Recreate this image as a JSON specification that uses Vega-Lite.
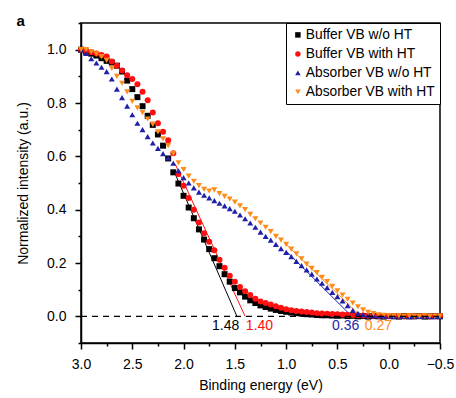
{
  "$schema": "https://vega.github.io/schema/vega-lite/v6.json",
  "width": 359,
  "height": 320,
  "padding": {"left": 16, "top": 14, "right": 4, "bottom": 4},
  "background": "white",
  "title": {"text": "a", "anchor": "start", "frame": "bounds", "fontSize": 15, "fontWeight": "bold", "font": "Liberation Sans", "color": "black", "offset": -13},
  "datasets": {
    "pts": [
      {"s":"b0","E":3.00,"I":1.000},{"s":"b0","E":2.95,"I":0.992},{"s":"b0","E":2.90,"I":0.985},{"s":"b0","E":2.85,"I":0.978},{"s":"b0","E":2.80,"I":0.968},{"s":"b0","E":2.75,"I":0.958},{"s":"b0","E":2.70,"I":0.952},{"s":"b0","E":2.65,"I":0.940},{"s":"b0","E":2.60,"I":0.918},{"s":"b0","E":2.55,"I":0.884},{"s":"b0","E":2.50,"I":0.852},{"s":"b0","E":2.45,"I":0.822},{"s":"b0","E":2.40,"I":0.788},{"s":"b0","E":2.35,"I":0.752},{"s":"b0","E":2.30,"I":0.718},{"s":"b0","E":2.25,"I":0.682},{"s":"b0","E":2.20,"I":0.640},{"s":"b0","E":2.15,"I":0.592},{"s":"b0","E":2.10,"I":0.540},{"s":"b0","E":2.05,"I":0.498},{"s":"b0","E":2.00,"I":0.452},{"s":"b0","E":1.95,"I":0.408},{"s":"b0","E":1.90,"I":0.368},{"s":"b0","E":1.85,"I":0.326},{"s":"b0","E":1.80,"I":0.288},{"s":"b0","E":1.75,"I":0.252},{"s":"b0","E":1.70,"I":0.218},{"s":"b0","E":1.65,"I":0.188},{"s":"b0","E":1.60,"I":0.158},{"s":"b0","E":1.55,"I":0.130},{"s":"b0","E":1.50,"I":0.106},{"s":"b0","E":1.45,"I":0.090},{"s":"b0","E":1.40,"I":0.074},{"s":"b0","E":1.35,"I":0.060},{"s":"b0","E":1.30,"I":0.050},{"s":"b0","E":1.25,"I":0.041},{"s":"b0","E":1.20,"I":0.035},{"s":"b0","E":1.15,"I":0.029},{"s":"b0","E":1.10,"I":0.024},{"s":"b0","E":1.05,"I":0.020},{"s":"b0","E":1.00,"I":0.017},{"s":"b0","E":0.95,"I":0.014},{"s":"b0","E":0.90,"I":0.012},{"s":"b0","E":0.85,"I":0.010},{"s":"b0","E":0.80,"I":0.008},{"s":"b0","E":0.75,"I":0.007},{"s":"b0","E":0.70,"I":0.005},{"s":"b0","E":0.65,"I":0.004},{"s":"b0","E":0.60,"I":0.004},{"s":"b0","E":0.55,"I":0.003},{"s":"b0","E":0.50,"I":0.002},{"s":"b0","E":0.45,"I":0.003},{"s":"b0","E":0.40,"I":0.001},{"s":"b0","E":0.35,"I":0.002},{"s":"b0","E":0.30,"I":0.000},{"s":"b0","E":0.25,"I":0.001},{"s":"b0","E":0.20,"I":-0.001},{"s":"b0","E":0.15,"I":0.001},{"s":"b0","E":0.10,"I":0.000},{"s":"b0","E":0.05,"I":-0.001},{"s":"b0","E":0.00,"I":0.001},{"s":"b0","E":-0.05,"I":0.000},{"s":"b0","E":-0.10,"I":-0.001},{"s":"b0","E":-0.15,"I":0.001},{"s":"b0","E":-0.20,"I":0.000},{"s":"b0","E":-0.25,"I":0.000},{"s":"b0","E":-0.30,"I":0.001},{"s":"b0","E":-0.35,"I":-0.001},{"s":"b0","E":-0.40,"I":0.000},{"s":"b0","E":-0.45,"I":0.001},{"s":"b0","E":-0.50,"I":0.000},
      {"s":"b1","E":3.00,"I":1.000},{"s":"b1","E":2.95,"I":0.996},{"s":"b1","E":2.90,"I":0.990},{"s":"b1","E":2.85,"I":0.986},{"s":"b1","E":2.80,"I":0.980},{"s":"b1","E":2.75,"I":0.974},{"s":"b1","E":2.70,"I":0.956},{"s":"b1","E":2.65,"I":0.940},{"s":"b1","E":2.60,"I":0.922},{"s":"b1","E":2.55,"I":0.904},{"s":"b1","E":2.50,"I":0.890},{"s":"b1","E":2.45,"I":0.870},{"s":"b1","E":2.40,"I":0.842},{"s":"b1","E":2.35,"I":0.810},{"s":"b1","E":2.30,"I":0.764},{"s":"b1","E":2.25,"I":0.724},{"s":"b1","E":2.20,"I":0.692},{"s":"b1","E":2.15,"I":0.660},{"s":"b1","E":2.10,"I":0.612},{"s":"b1","E":2.05,"I":0.534},{"s":"b1","E":2.00,"I":0.490},{"s":"b1","E":1.95,"I":0.444},{"s":"b1","E":1.90,"I":0.400},{"s":"b1","E":1.85,"I":0.352},{"s":"b1","E":1.80,"I":0.312},{"s":"b1","E":1.75,"I":0.280},{"s":"b1","E":1.70,"I":0.248},{"s":"b1","E":1.65,"I":0.212},{"s":"b1","E":1.60,"I":0.182},{"s":"b1","E":1.55,"I":0.152},{"s":"b1","E":1.50,"I":0.130},{"s":"b1","E":1.45,"I":0.110},{"s":"b1","E":1.40,"I":0.094},{"s":"b1","E":1.35,"I":0.080},{"s":"b1","E":1.30,"I":0.066},{"s":"b1","E":1.25,"I":0.056},{"s":"b1","E":1.20,"I":0.050},{"s":"b1","E":1.15,"I":0.044},{"s":"b1","E":1.10,"I":0.038},{"s":"b1","E":1.05,"I":0.032},{"s":"b1","E":1.00,"I":0.027},{"s":"b1","E":0.95,"I":0.023},{"s":"b1","E":0.90,"I":0.020},{"s":"b1","E":0.85,"I":0.018},{"s":"b1","E":0.80,"I":0.016},{"s":"b1","E":0.75,"I":0.014},{"s":"b1","E":0.70,"I":0.012},{"s":"b1","E":0.65,"I":0.011},{"s":"b1","E":0.60,"I":0.010},{"s":"b1","E":0.55,"I":0.009},{"s":"b1","E":0.50,"I":0.008},{"s":"b1","E":0.45,"I":0.007},{"s":"b1","E":0.40,"I":0.006},{"s":"b1","E":0.35,"I":0.005},{"s":"b1","E":0.30,"I":0.004},{"s":"b1","E":0.25,"I":0.003},{"s":"b1","E":0.20,"I":0.002},{"s":"b1","E":0.15,"I":0.002},{"s":"b1","E":0.10,"I":0.001},{"s":"b1","E":0.05,"I":0.001},{"s":"b1","E":0.00,"I":0.000},{"s":"b1","E":-0.05,"I":0.001},{"s":"b1","E":-0.10,"I":0.000},{"s":"b1","E":-0.15,"I":-0.001},{"s":"b1","E":-0.20,"I":0.001},{"s":"b1","E":-0.25,"I":0.000},{"s":"b1","E":-0.30,"I":0.000},{"s":"b1","E":-0.35,"I":0.001},{"s":"b1","E":-0.40,"I":-0.001},{"s":"b1","E":-0.45,"I":0.000},{"s":"b1","E":-0.50,"I":0.001},
      {"s":"a0","E":3.00,"I":1.000},{"s":"a0","E":2.95,"I":0.986},{"s":"a0","E":2.90,"I":0.966},{"s":"a0","E":2.85,"I":0.950},{"s":"a0","E":2.80,"I":0.934},{"s":"a0","E":2.75,"I":0.918},{"s":"a0","E":2.70,"I":0.890},{"s":"a0","E":2.65,"I":0.852},{"s":"a0","E":2.60,"I":0.820},{"s":"a0","E":2.55,"I":0.788},{"s":"a0","E":2.50,"I":0.756},{"s":"a0","E":2.45,"I":0.724},{"s":"a0","E":2.40,"I":0.700},{"s":"a0","E":2.35,"I":0.674},{"s":"a0","E":2.30,"I":0.650},{"s":"a0","E":2.25,"I":0.630},{"s":"a0","E":2.20,"I":0.610},{"s":"a0","E":2.15,"I":0.594},{"s":"a0","E":2.10,"I":0.574},{"s":"a0","E":2.05,"I":0.546},{"s":"a0","E":2.00,"I":0.520},{"s":"a0","E":1.95,"I":0.500},{"s":"a0","E":1.90,"I":0.482},{"s":"a0","E":1.85,"I":0.466},{"s":"a0","E":1.80,"I":0.454},{"s":"a0","E":1.75,"I":0.444},{"s":"a0","E":1.70,"I":0.434},{"s":"a0","E":1.65,"I":0.424},{"s":"a0","E":1.60,"I":0.414},{"s":"a0","E":1.55,"I":0.404},{"s":"a0","E":1.50,"I":0.394},{"s":"a0","E":1.45,"I":0.380},{"s":"a0","E":1.40,"I":0.366},{"s":"a0","E":1.35,"I":0.350},{"s":"a0","E":1.30,"I":0.334},{"s":"a0","E":1.25,"I":0.316},{"s":"a0","E":1.20,"I":0.300},{"s":"a0","E":1.15,"I":0.286},{"s":"a0","E":1.10,"I":0.270},{"s":"a0","E":1.05,"I":0.254},{"s":"a0","E":1.00,"I":0.240},{"s":"a0","E":0.95,"I":0.224},{"s":"a0","E":0.90,"I":0.206},{"s":"a0","E":0.85,"I":0.190},{"s":"a0","E":0.80,"I":0.174},{"s":"a0","E":0.75,"I":0.158},{"s":"a0","E":0.70,"I":0.140},{"s":"a0","E":0.65,"I":0.124},{"s":"a0","E":0.60,"I":0.108},{"s":"a0","E":0.55,"I":0.090},{"s":"a0","E":0.50,"I":0.074},{"s":"a0","E":0.45,"I":0.058},{"s":"a0","E":0.40,"I":0.040},{"s":"a0","E":0.35,"I":0.022},{"s":"a0","E":0.30,"I":0.011},{"s":"a0","E":0.25,"I":0.006},{"s":"a0","E":0.20,"I":0.004},{"s":"a0","E":0.15,"I":0.003},{"s":"a0","E":0.10,"I":0.002},{"s":"a0","E":0.05,"I":0.001},{"s":"a0","E":0.00,"I":0.002},{"s":"a0","E":-0.05,"I":0.000},{"s":"a0","E":-0.10,"I":0.001},{"s":"a0","E":-0.15,"I":0.000},{"s":"a0","E":-0.20,"I":-0.001},{"s":"a0","E":-0.25,"I":0.001},{"s":"a0","E":-0.30,"I":0.000},{"s":"a0","E":-0.35,"I":0.001},{"s":"a0","E":-0.40,"I":0.000},{"s":"a0","E":-0.45,"I":-0.001},{"s":"a0","E":-0.50,"I":0.000},
      {"s":"a1","E":3.00,"I":1.000},{"s":"a1","E":2.95,"I":1.000},{"s":"a1","E":2.90,"I":0.992},{"s":"a1","E":2.85,"I":0.984},{"s":"a1","E":2.80,"I":0.974},{"s":"a1","E":2.75,"I":0.960},{"s":"a1","E":2.70,"I":0.930},{"s":"a1","E":2.65,"I":0.900},{"s":"a1","E":2.60,"I":0.874},{"s":"a1","E":2.55,"I":0.842},{"s":"a1","E":2.50,"I":0.806},{"s":"a1","E":2.45,"I":0.782},{"s":"a1","E":2.40,"I":0.764},{"s":"a1","E":2.35,"I":0.740},{"s":"a1","E":2.30,"I":0.720},{"s":"a1","E":2.25,"I":0.692},{"s":"a1","E":2.20,"I":0.666},{"s":"a1","E":2.15,"I":0.640},{"s":"a1","E":2.10,"I":0.610},{"s":"a1","E":2.05,"I":0.576},{"s":"a1","E":2.00,"I":0.550},{"s":"a1","E":1.95,"I":0.526},{"s":"a1","E":1.90,"I":0.506},{"s":"a1","E":1.85,"I":0.490},{"s":"a1","E":1.80,"I":0.476},{"s":"a1","E":1.75,"I":0.470},{"s":"a1","E":1.70,"I":0.474},{"s":"a1","E":1.65,"I":0.460},{"s":"a1","E":1.60,"I":0.450},{"s":"a1","E":1.55,"I":0.440},{"s":"a1","E":1.50,"I":0.428},{"s":"a1","E":1.45,"I":0.414},{"s":"a1","E":1.40,"I":0.400},{"s":"a1","E":1.35,"I":0.382},{"s":"a1","E":1.30,"I":0.366},{"s":"a1","E":1.25,"I":0.350},{"s":"a1","E":1.20,"I":0.334},{"s":"a1","E":1.15,"I":0.318},{"s":"a1","E":1.10,"I":0.300},{"s":"a1","E":1.05,"I":0.286},{"s":"a1","E":1.00,"I":0.270},{"s":"a1","E":0.95,"I":0.252},{"s":"a1","E":0.90,"I":0.234},{"s":"a1","E":0.85,"I":0.216},{"s":"a1","E":0.80,"I":0.196},{"s":"a1","E":0.75,"I":0.180},{"s":"a1","E":0.70,"I":0.164},{"s":"a1","E":0.65,"I":0.146},{"s":"a1","E":0.60,"I":0.130},{"s":"a1","E":0.55,"I":0.112},{"s":"a1","E":0.50,"I":0.096},{"s":"a1","E":0.45,"I":0.080},{"s":"a1","E":0.40,"I":0.064},{"s":"a1","E":0.35,"I":0.050},{"s":"a1","E":0.30,"I":0.036},{"s":"a1","E":0.25,"I":0.024},{"s":"a1","E":0.20,"I":0.015},{"s":"a1","E":0.15,"I":0.010},{"s":"a1","E":0.10,"I":0.006},{"s":"a1","E":0.05,"I":0.004},{"s":"a1","E":0.00,"I":0.003},{"s":"a1","E":-0.05,"I":0.002},{"s":"a1","E":-0.10,"I":0.002},{"s":"a1","E":-0.15,"I":0.001},{"s":"a1","E":-0.20,"I":0.002},{"s":"a1","E":-0.25,"I":0.001},{"s":"a1","E":-0.30,"I":0.001},{"s":"a1","E":-0.35,"I":0.002},{"s":"a1","E":-0.40,"I":0.001},{"s":"a1","E":-0.45,"I":0.001},{"s":"a1","E":-0.50,"I":0.001}
    ],
    "fits": [
      {"s":"b0","E":2.10,"I":0.550},{"s":"b0","E":1.48,"I":0.0},
      {"s":"b1","E":2.08,"I":0.570},{"s":"b1","E":1.40,"I":0.0},
      {"s":"a0","E":1.00,"I":0.245},{"s":"a0","E":0.36,"I":0.0},
      {"s":"a1","E":1.00,"I":0.270},{"s":"a1","E":0.27,"I":0.0}
    ],
    "zero": [{"E":3.0,"I":0.0},{"E":-0.5,"I":0.0}],
    "labels": [
      {"s":"b0","E":1.59,"I":-0.038,"t":"1.48"},
      {"s":"b1","E":1.26,"I":-0.038,"t":"1.40"},
      {"s":"a0","E":0.42,"I":-0.038,"t":"0.36"},
      {"s":"a1","E":0.10,"I":-0.038,"t":"0.27"}
    ]
  },
  "encoding": {
    "x": {
      "field": "E", "type": "quantitative",
      "scale": {"domain": [-0.5, 3.0], "reverse": true, "nice": false, "zero": false},
      "axis": {
        "title": "Binding energy (eV)",
        "values": [3, 2.75, 2.5, 2.25, 2, 1.75, 1.5, 1.25, 1, 0.75, 0.5, 0.25, 0, -0.25, -0.5],
        "labelExpr": "round(datum.value*4)%2==0 ? replace(format(datum.value,'.1f'),'-','−') : ''",
        "tickSize": {"condition": {"test": "round(datum.value*4)%2==0", "value": 6}, "value": 3},
        "labelFlush": false, "labelOverlap": false, "labelBound": false,
        "labelPadding": 8, "titlePadding": 7
      }
    },
    "y": {
      "field": "I", "type": "quantitative",
      "scale": {"domain": [-0.1, 1.1], "nice": false, "zero": false},
      "axis": {
        "title": "Normalized intensity (a.u.)",
        "values": [-0.1, 0, 0.1, 0.2, 0.3, 0.4, 0.5, 0.6, 0.7, 0.8, 0.9, 1.0, 1.1],
        "labelExpr": "round(datum.value*10)%2==0 ? format(datum.value,'.1f') : ''",
        "tickSize": {"condition": {"test": "round(datum.value*10)%2==0", "value": 6}, "value": 3},
        "labelFlush": false, "labelOverlap": false, "labelBound": false,
        "labelPadding": 9, "titlePadding": 16
      }
    }
  },
  "resolve": {"legend": {"color": "independent", "shape": "independent"}},
  "layer": [
    {
      "data": {"name": "fits"},
      "mark": {"type": "line", "strokeWidth": 1},
      "encoding": {
        "detail": {"field": "s"},
        "color": {"field": "s", "type": "nominal", "legend": null,
          "scale": {"domain": ["b0","b1","a0","a1"], "range": ["#000000","#ff1010","#1f1fa8","#ff8c1a"]}}
      }
    },
    {
      "data": {"name": "pts"},
      "mark": {"type": "point", "filled": true, "opacity": 1, "strokeWidth": 0, "size": 36},
      "encoding": {
        "color": {"field": "s", "type": "nominal",
          "scale": {"domain": ["b0","b1","a0","a1"], "range": ["#000000","#ff1010","#1f1fa8","#ff8c1a"]},
          "legend": {
            "title": null, "orient": "top-right", "offset": 0,
            "strokeColor": "black", "fillColor": "white", "padding": 5,
            "labelFont": "Liberation Sans", "labelFontSize": 13.8, "labelColor": "black",
            "labelOffset": 1, "rowPadding": 4, "symbolSize": 30,
            "labelExpr": "datum.label == 'b0' ? 'Buffer VB w/o HT' : datum.label == 'b1' ? 'Buffer VB with HT' : datum.label == 'a0' ? 'Absorber VB w/o HT' : 'Absorber VB with HT'"
          }
        },
        "shape": {"field": "s", "type": "nominal",
          "scale": {"domain": ["b0","b1","a0","a1"], "range": ["square","circle","triangle-up","triangle-down"]},
          "legend": {
            "title": null, "orient": "top-right", "offset": 0,
            "strokeColor": "black", "fillColor": "white", "padding": 5,
            "labelFont": "Liberation Sans", "labelFontSize": 13.8, "labelColor": "black",
            "labelOffset": 1, "rowPadding": 4, "symbolSize": 30,
            "labelExpr": "datum.label == 'b0' ? 'Buffer VB w/o HT' : datum.label == 'b1' ? 'Buffer VB with HT' : datum.label == 'a0' ? 'Absorber VB w/o HT' : 'Absorber VB with HT'"
          }
        }
      }
    },
    {
      "data": {"name": "zero"},
      "mark": {"type": "line", "color": "black", "strokeWidth": 1.3, "strokeDash": [6, 5]},
      "encoding": {}
    },
    {
      "data": {"name": "labels"},
      "mark": {"type": "text", "font": "Liberation Sans", "fontSize": 14, "align": "center", "baseline": "middle"},
      "encoding": {
        "text": {"field": "t"},
        "color": {"field": "s", "type": "nominal", "legend": null,
          "scale": {"domain": ["b0","b1","a0","a1"], "range": ["#000000","#ff1010","#1f1fa8","#ff8c1a"]}}
      }
    }
  ],
  "config": {
    "view": {"stroke": "black", "strokeWidth": 1.5},
    "axis": {
      "labelFont": "Liberation Sans", "titleFont": "Liberation Sans",
      "labelFontSize": 14, "titleFontSize": 14, "titleFontWeight": "normal",
      "labelColor": "black", "titleColor": "black",
      "domainColor": "black", "tickColor": "black",
      "domainWidth": 1.5, "tickWidth": 1.5, "grid": false
    }
  }
}
